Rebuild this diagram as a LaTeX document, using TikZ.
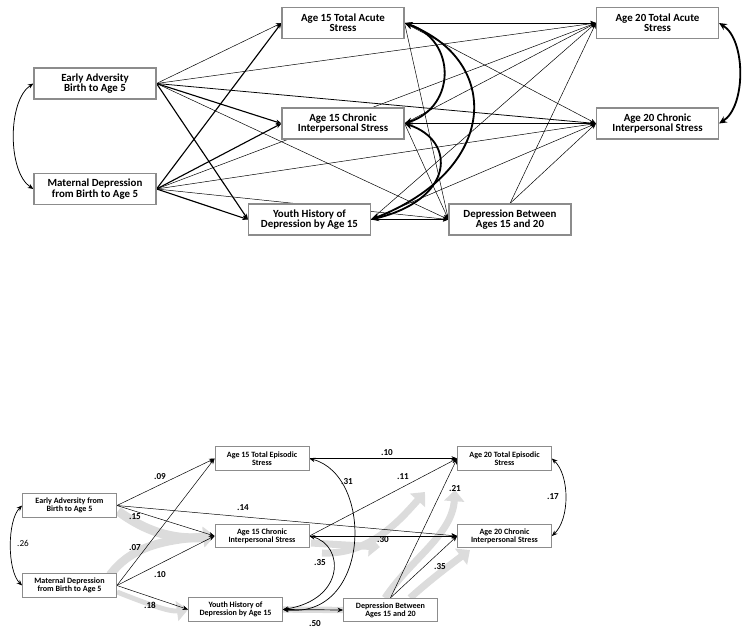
\documentclass[tikz,border=0pt]{standalone}
\usepackage{fontspec}
\setmainfont{Carlito}
\usetikzlibrary{arrows.meta}
\pgfdeclarelayer{shade}
\pgfdeclarelayer{lines}
\pgfsetlayers{shade,lines,main}
\definecolor{boxgray}{RGB}{140,140,140}
\definecolor{bandgray}{RGB}{220,220,220}

\begin{document}
\begin{tikzpicture}[
            x=0.05cm, y=-0.05cm,          % 1 单位 = 1 像素
            >={Stealth[length=8pt, width=6.5pt]},
            box/.style={draw=boxgray, line width=1.6pt, fill=white,
                minimum width=6.1cm, minimum height=1.55cm, inner sep=1pt,
                align=center, font=\fontsize{15.5}{14.8}\selectfont\bfseries},
            sbox/.style={draw=boxgray, line width=1.1pt, fill=white,
                minimum width=4.7cm, minimum height=1.18cm, inner sep=1pt,
                align=center, font=\fontsize{11.5}{11.2}\selectfont\bfseries},
            pth/.style={->, line width=0.7pt},
            mpth/.style={->, line width=1.1pt},
            spth/.style={->, line width=1.6pt},
            cov/.style={{Stealth[length=11pt, width=10pt]}-{Stealth[length=11pt, width=10pt]}, line width=2.6pt},
            scov/.style={<->, line width=1pt},
            coef/.style={font=\fontsize{13}{14}\selectfont\bfseries, inner sep=0pt},
            band/.style={draw=bandgray, line width=10pt,
                -{Triangle[length=16pt, width=28pt]}}
        ]
            \useasboundingbox (0,0) rectangle (746,630);

            % 上图节点
            \node[box] (ea)  at (95,83.5)    {Early Adversity\\Birth to Age 5};
            \node[box] (md)  at (95,189)     {Maternal Depression\\from Birth to Age 5};
            \node[box] (t15) at (343,23)     {Age 15 Total Acute\\Stress};
            \node[box] (c15) at (343,123.5)  {Age 15 Chronic\\Interpersonal Stress};
            \node[box] (yh)  at (309.5,219.5) {Youth History of\\Depression by Age 15};
            \node[box] (dep) at (510,219.5)  {Depression Between\\Ages 15 and 20};
            \node[box] (t20) at (657.5,23)   {Age 20 Total Acute\\Stress};
            \node[box] (c20) at (657.5,123.5) {Age 20 Chronic\\Interpersonal Stress};

            % 上图边
            \begin{pgfonlayer}{lines}
            \draw[pth]  (ea.east) -- (t15.west);
            \draw[spth] (ea.east) -- (c15.west);
            \draw[spth] (ea.east) -- (yh.west);
            \draw[pth]  (ea.east) -- (dep.west);
            \draw[pth]  (ea.east) -- (t20.west);
            \draw[mpth] (ea.east) -- (c20.west);
            \draw[spth] (md.east) -- (t15.west);
            \draw[spth] (md.east) -- (c15.west);
            \draw[spth] (md.east) -- (yh.west);
            \draw[pth]  (md.east) -- (dep.west);
            \draw[pth]  (md.east) -- (t20.west);
            \draw[pth]  (md.east) -- (c20.west);
            \draw[mpth] (t15.east) -- (t20.west);
            \draw[pth]  (t15.east) -- (c20.west);
            \draw[pth]  (t15.east) -- (dep.west);
            \draw[mpth] (c15.east) -- (c20.west);
            \draw[pth]  (c15.east) -- (t20.west);
            \draw[pth]  (c15.east) -- (dep.west);
            \draw[mpth] (yh.east) -- (dep.west);
            \draw[pth]  (yh.east) -- (t20.west);
            \draw[pth]  (yh.east) -- (c20.west);
            \draw[pth]  (dep.north) -- (t20.west);
            \draw[pth]  (dep.north) -- (c20.west);
            \draw[cov]  (t15.east) .. controls +(52,17) and +(52,-17) .. (c15.east);
            \draw[cov]  (t15.east) .. controls +(97,37) and +(129,-50) .. (yh.east);
            \draw[cov]  (c15.east) .. controls +(52,17) and +(84,-20) .. (yh.east);
            \draw[cov]  (t20.east) .. controls +(27,17) and +(27,-17) .. (c20.east);
            \draw[<->, line width=1.1pt] (ea.west) .. controls +(-26,17) and +(-26,-17) .. (md.west);
            \end{pgfonlayer}

            % 下图节点
            \node[sbox] (bea)  at (69.5,505.5) {Early Adversity from\\Birth to Age 5};
            \node[sbox] (bmd)  at (69.5,585.5) {Maternal Depression\\from Birth to Age 5};
            \node[sbox] (bt15) at (262,458.5)  {Age 15 Total Episodic\\Stress};
            \node[sbox] (bc15) at (262,536)    {Age 15 Chronic\\Interpersonal Stress};
            \node[sbox] (byh)  at (235.5,609.5) {Youth History of\\Depression by Age 15};
            \node[sbox] (bdep) at (390.5,610)  {Depression Between\\Ages 15 and 20};
            \node[sbox] (bt20) at (504.5,458.5) {Age 20 Total Episodic\\Stress};
            \node[sbox] (bc20) at (504.5,536)  {Age 20 Chronic\\Interpersonal Stress};

            % 灰色间接路径
            \begin{pgfonlayer}{shade}
            \draw[band, line width=13pt] (118,511) .. controls (150,535) and (180,540) .. (bc15.west);
            \draw[band, line width=12pt] (110,575) .. controls (130,548) and (160,540) .. (bc15.west);
            \draw[band, line width=7pt] (117,592) .. controls (150,605) and (170,612) .. (byh.west);
            \draw[draw=bandgray, line width=9pt] (byh.east) -- (bdep.west);
            \draw[band] (311,543) -- (380,547);
            \draw[band] (322,553) .. controls (370,555) and (400,520) .. (425,492);
            \draw[band] (385,598) .. controls (410,560) and (452,535) .. (455,490);
            \draw[band] (410,598) .. controls (430,580) and (450,565) .. (470,550);
            \end{pgfonlayer}

            % 下图边
            \begin{pgfonlayer}{lines}
            \draw[pth] (bea.east) -- (bt15.west);
            \draw[pth] (bea.east) -- (bc15.west);
            \draw[pth] (bea.east) -- (bc20.west);
            \draw[pth] (bmd.east) -- (bt15.west);
            \draw[pth] (bmd.east) -- (bc15.west);
            \draw[pth] (bmd.east) -- (byh.west);
            \draw[pth] (bt15.east) -- (bt20.west);
            \draw[pth] (bc15.east) -- (bt20.west);
            \draw[pth] (bc15.east) -- (bc20.west);
            \draw[pth] (bdep.north) -- (bt20.west);
            \draw[pth] (bdep.north) -- (bc20.west);
            \draw[scov] (byh.east) -- (bdep.west);
            \draw[scov] (bea.west) .. controls +(-15,15) and +(-15,-15) .. (bmd.west);
            \draw[scov] (bt20.east) .. controls +(18,17) and +(18,-17) .. (bc20.east);
            \draw[scov] (bt15.east) .. controls +(65,17) and +(88,10) .. (byh.east);
            \draw[scov] (bc15.east) .. controls +(35,9) and +(63,-10) .. (byh.east);
            \end{pgfonlayer}

            % 系数
            \node[coef] (k09) at (160,477) {.09};
            \node[coef] (k15) at (135,517) {.15};
            \node[coef] (k14) at (243,508) {.14};
            \node[coef] (k07) at (135,548) {.07};
            \node[coef] (k10a) at (160,575) {.10};
            \node[coef] (k18) at (150,605) {.18};
            \node[coef, font=\fontsize{13}{14}\selectfont] (k26) at (23,543) {.26};
            \node[coef] (k31) at (347,482) {.31};
            \node[coef] (k10b) at (387,453) {.10};
            \node[coef] (k11) at (403,477) {.11};
            \node[coef] (k21) at (455,489) {.21};
            \node[coef] (k30) at (383,540) {.30};
            \node[coef] (k35a) at (320,563) {.35};
            \node[coef] (k35b) at (440,567) {.35};
            \node[coef] (k17) at (553,497) {.17};
            \node[coef] (k50) at (315,624) {.50};
        \end{tikzpicture}
\end{document}
